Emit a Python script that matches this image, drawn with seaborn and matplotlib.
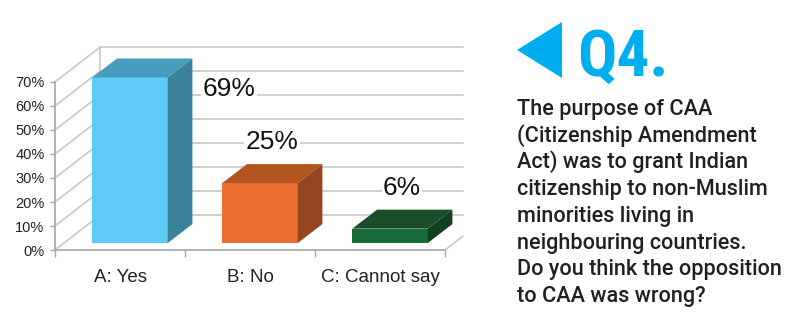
import matplotlib
matplotlib.use('Agg')
import matplotlib.pyplot as plt
from matplotlib.patches import Polygon
import pandas as pd
import seaborn as sns

categories = ['A: Yes', 'B: No', 'C: Cannot say']
shares = [69, 25, 6]
value_labels = ['69%', '25%', '6%']
y_ticks = [0, 10, 20, 30, 40, 50, 60, 70]
y_tick_labels = ['0%', '10%', '20%', '30%', '40%', '50%', '60%', '70%']
front_colors = ['#5ECBF4', '#EB6F30', '#176B38']
top_colors = ['#479DC0', '#B4541F', '#1A4E29']
side_colors = ['#3A8299', '#934620', '#11401F']
question_title = 'Q4.'
question_lines = [
    'The purpose of CAA',
    '(Citizenship Amendment',
    'Act) was to grant Indian',
    'citizenship to non-Muslim',
    'minorities living in',
    'neighbouring countries.',
    'Do you think the opposition',
    'to CAA was wrong?',
]

sns.set_theme(style='white')
plt.rcParams['font.family'] = ['Liberation Sans', 'DejaVu Sans']

W, H = 794, 313
fig = plt.figure(figsize=(W / 100, H / 100), dpi=100)
ax = fig.add_axes([55 / W, 63 / H, 420 / W, 210 / H])

# pseudo-3d geometry (data units)
WX, WY = 0.346, 14.5     # wall depth
BX, BY = 0.077, 2.9      # bar front inset
DX, DY = 0.19, 7.9       # bar depth
XEND = 2.638
grid_c = '#C8C8C8'

df = pd.DataFrame({'answer': categories, 'share': shares})
sns.barplot(data=df, x='answer', y='share', hue='answer', palette=front_colors,
            legend=False, width=0.58, saturation=1, ax=ax, zorder=3)

# back wall, side wall and floor lines
for v in y_ticks:
    ax.plot([-0.5 + WX, XEND], [v + WY, v + WY], color=grid_c, lw=1.2, zorder=1)
    ax.plot([-0.5, -0.5 + WX], [v, v + WY], color=grid_c, lw=1.2, zorder=1)
ax.plot([-0.5 + WX, -0.5 + WX], [WY, y_ticks[-1] + WY], color=grid_c, lw=1.2, zorder=1)
ax.plot([2.5, XEND], [0, (XEND - 2.5) / WX * WY], color=grid_c, lw=1.2, zorder=1)

bars = sorted(ax.patches, key=lambda p: p.get_x())
for i, p in enumerate(bars):
    h = p.get_height()
    x0 = p.get_x() + BX
    x1 = x0 + p.get_width()
    p.set_x(x0)
    p.set_y(BY)
    p.set_edgecolor('none')
    top = BY + h
    ax.add_patch(Polygon([(x0, top), (x1, top), (x1 + DX, top + DY), (x0 + DX, top + DY)],
                         closed=True, facecolor=top_colors[i], edgecolor='none', zorder=3))
    ax.add_patch(Polygon([(x1, BY), (x1 + DX, BY + DY), (x1 + DX, top + DY), (x1, top)],
                         closed=True, facecolor=side_colors[i], edgecolor='none', zorder=3))
    if top + DY + 12 > y_ticks[-1] + WY:
        ax.text(x1 + DX + 0.08, h - 1.9, value_labels[i], ha='left', va='center',
                fontsize=19, color='#111111', zorder=5,
                bbox=dict(facecolor='white', edgecolor='none', pad=1))
    else:
        ax.text(i + 0.17, top + DY + 9, value_labels[i], ha='center', va='center',
                fontsize=19, color='#111111', zorder=5,
                bbox=dict(facecolor='white', edgecolor='none', pad=1))

ax.set_xlim(-0.5, -0.5 + 420 / 130)
ax.set_ylim(0, 210 / 2.4)
ax.set_xlabel('')
ax.set_ylabel('')
ax.set_yticks(y_ticks, y_tick_labels)
ax.set_xticks([-0.5, 0.5, 1.5, 2.5], minor=True)
ax.tick_params(axis='y', left=True, length=3.6, width=1, color='#A6A6A6',
               pad=4, labelsize=10.5, labelcolor='#222222')
ax.tick_params(axis='x', which='major', length=0, pad=14, labelsize=13.5,
               labelcolor='#222222')
ax.tick_params(axis='x', which='minor', bottom=True, length=5, width=1, color='#A6A6A6')
sns.despine(ax=ax, top=True, right=True)
for s in ('left', 'bottom'):
    ax.spines[s].set_color('#A6A6A6')
    ax.spines[s].set_linewidth(1.2)
ax.spines['left'].set_bounds(0, y_ticks[-1])
ax.spines['bottom'].set_bounds(-0.5, 2.5)

# question panel
blue = '#00AEEF'
fig.add_artist(Polygon([(517 / W, 1 - 50 / H), (562 / W, 1 - 22 / H), (562 / W, 1 - 78 / H)],
                       closed=True, transform=fig.transFigure, facecolor=blue, edgecolor='none'))
fig.text(577 / W, 1 - 76 / H, question_title, ha='left', va='baseline', fontsize=47,
         fontweight='bold', fontstretch='condensed',
         family=['Roboto Condensed', 'DejaVu Sans'], color=blue)
for j, line in enumerate(question_lines):
    fig.text(517 / W, 1 - (115 + 26.7 * j) / H, line, ha='left', va='baseline',
             fontsize=15.6, fontweight='medium', family=['Roboto', 'DejaVu Sans'],
             color='#231F20')

fig.savefig('out.png', dpi=100)
